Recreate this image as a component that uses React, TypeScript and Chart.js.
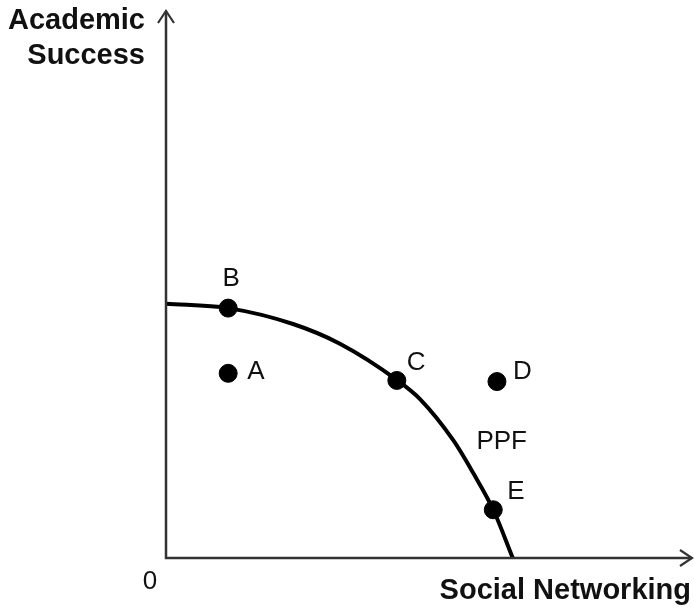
import React, { useEffect, useRef } from "react";
import { Chart, registerables } from "chart.js";

Chart.register(...registerables);

// ---- data ----
const X_MAX = 10;
const Y_MAX = 10;
const ppfX = [0, 1.18, 2.41, 3.3, 4.38, 4.82, 5.45, 5.83, 6.21, 6.58];
const ppfY = [4.64, 4.56, 4.27, 3.91, 3.25, 2.9, 2.15, 1.55, 0.88, 0];
const pointNames = ["A", "B", "C", "D", "E"];
const pointX = [1.18, 1.18, 4.38, 6.28, 6.21];
const pointY = [3.37, 4.56, 3.24, 3.22, 0.88];
const curveName = "PPF";
const curveLabelX = 6.37;
const curveLabelY = 2.12;
const yTitleLines = ["Academic", "Success"];
const xTitle = "Social Networking";
const originLabel = "0";

// ---- styling (offsets in px) ----
const labelOffsets: Record<string, [number, number, CanvasTextAlign]> = {
  A: [19, -1, "left"],
  B: [3, -29, "center"],
  C: [10, -18, "left"],
  D: [16, -10, "left"],
  E: [14, -18, "left"],
};
const INK = "#111";
const AXIS = "#333";
const FONT = "'Liberation Sans', Arial, Helvetica, sans-serif";

const decorPlugin = {
  id: "decor",
  afterDatasetsDraw(chart: any) {
    const { ctx, chartArea, scales } = chart;
    const xs = scales.x;
    const ys = scales.y;
    const left = chartArea.left;
    const bottom = chartArea.bottom;
    const right = chartArea.right;
    const top = chartArea.top;
    ctx.save();
    // axes
    ctx.strokeStyle = AXIS;
    ctx.lineWidth = 2.5;
    ctx.lineCap = "butt";
    ctx.beginPath();
    ctx.moveTo(left, top + 1);
    ctx.lineTo(left, bottom);
    ctx.lineTo(right - 1, bottom);
    ctx.stroke();
    // arrowheads
    ctx.lineWidth = 2.2;
    ctx.lineJoin = "miter";
    ctx.beginPath();
    ctx.moveTo(left - 8, top + 13);
    ctx.lineTo(left, top + 1);
    ctx.lineTo(left + 8, top + 13);
    ctx.moveTo(right - 13, bottom - 8);
    ctx.lineTo(right - 1, bottom);
    ctx.lineTo(right - 13, bottom + 8);
    ctx.stroke();

    // point labels
    ctx.fillStyle = INK;
    ctx.textBaseline = "middle";
    ctx.font = `26px ${FONT}`;
    pointNames.forEach((n, i) => {
      const [dx, dy, al] = labelOffsets[n];
      ctx.textAlign = al;
      ctx.fillText(n, xs.getPixelForValue(pointX[i]) + dx, ys.getPixelForValue(pointY[i]) + dy);
    });
    ctx.textAlign = "center";
    ctx.fillText(curveName, xs.getPixelForValue(curveLabelX), ys.getPixelForValue(curveLabelY));
    // origin
    ctx.fillText(originLabel, left - 16, bottom + 24);

    // axis titles
    ctx.font = `bold 29px ${FONT}`;
    ctx.textAlign = "right";
    ctx.fillText(yTitleLines[0], left - 21, top + 11);
    ctx.fillText(yTitleLines[1], left - 21, top + 46);
    ctx.fillText(xTitle, right - 2, bottom + 33);
    ctx.restore();
  },
};

export default function App() {
  const ref = useRef<HTMLCanvasElement>(null);
  useEffect(() => {
    if (!ref.current) return;
    const chart = new Chart(ref.current, {
      type: "scatter",
      data: {
        datasets: [
          {
            type: "line",
            label: curveName,
            data: ppfX.map((x, i) => ({ x, y: ppfY[i] })),
            borderColor: "#000",
            borderWidth: 4,
            pointRadius: 0,
            cubicInterpolationMode: "monotone",
            fill: false,
            order: 2,
          } as any,
          {
            type: "scatter",
            label: "points",
            data: pointX.map((x, i) => ({ x, y: pointY[i] })),
            backgroundColor: "#000",
            borderColor: "#000",
            pointRadius: 9,
            pointHoverRadius: 9,
            order: 1,
          } as any,
        ],
      },
      options: {
        animation: false,
        responsive: false,
        maintainAspectRatio: false,
        events: [],
        layout: { autoPadding: false, padding: { left: 166, right: 1, top: 10, bottom: 55 } },
        plugins: { legend: { display: false }, tooltip: { enabled: false } },
        scales: {
          x: {
            type: "linear",
            min: 0,
            max: X_MAX,
            display: false,
          },
          y: {
            type: "linear",
            min: 0,
            max: Y_MAX,
            display: false,
          },
        },
      },
      plugins: [decorPlugin],
    });
    return () => chart.destroy();
  }, []);
  return (
    <div style={{ position: "fixed", left: 0, top: 0, width: 694, height: 613, background: "#fff" }}>
      <canvas ref={ref} width={694} height={613} style={{ width: 694, height: 613, display: "block" }} />
    </div>
  );
}
